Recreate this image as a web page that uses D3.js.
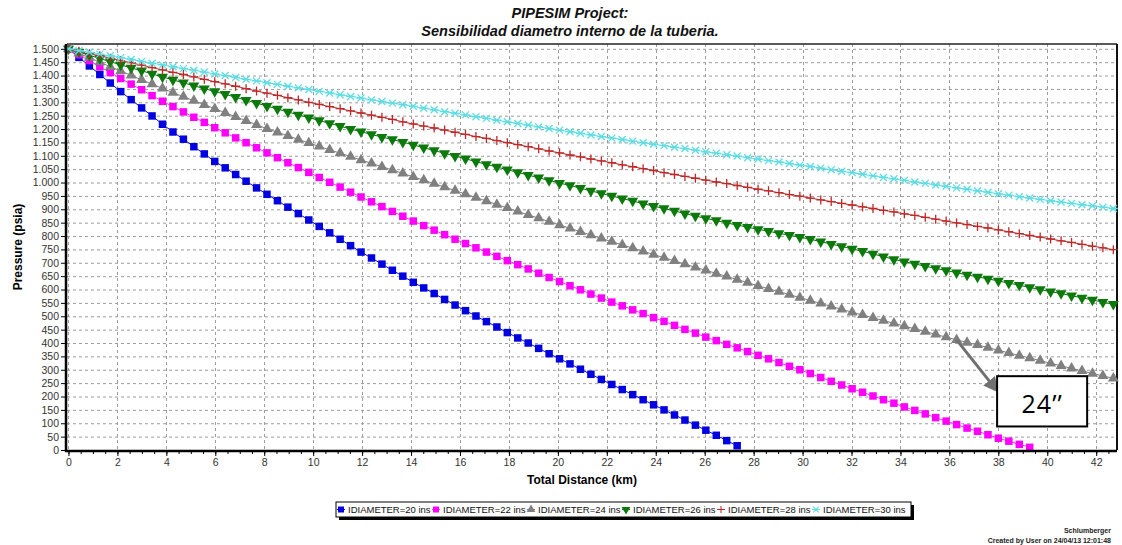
<!DOCTYPE html>
<html>
<head>
<meta charset="utf-8">
<script src="https://cdn.jsdelivr.net/npm/d3@7"></script>
<style>
  body { margin: 0; background: #fff; }
  svg { font-family: "Liberation Sans", Arial, sans-serif; }
  .grid line { stroke: #9c9c9c; stroke-width: 1; stroke-dasharray: 3,3; }
  .axis text { font-size: 10.5px; fill: #333; }
  .axis line { stroke: #000; }
  .axis path { stroke: #000; stroke-width: 2.5; }
  .minor path { display: none; }
  .minor line { stroke: #000; }
</style>
</head>
<body>
<div id="chart"></div>
<script>
// node distances along the line (km)
const DIST = [0,0.427,0.854,1.281,1.708,2.135,2.562,2.989,3.416,3.843,
  4.27,4.697,5.124,5.551,5.978,6.405,6.832,7.259,7.686,8.113,
  8.54,8.967,9.394,9.821,10.248,10.675,11.102,11.529,11.956,12.383,
  12.81,13.237,13.664,14.091,14.518,14.945,15.372,15.799,16.226,16.653,
  17.08,17.507,17.934,18.361,18.788,19.215,19.642,20.069,20.496,20.923,
  21.35,21.777,22.204,22.631,23.058,23.485,23.912,24.339,24.766,25.193,
  25.62,26.047,26.474,26.901,27.328,27.755,28.182,28.609,29.036,29.463,
  29.89,30.317,30.744,31.171,31.598,32.025,32.452,32.879,33.306,33.733,
  34.16,34.587,35.014,35.441,35.868,36.295,36.722,37.149,37.576,38.003,
  38.43,38.857,39.284,39.711,40.138,40.565,40.992,41.419,41.846,42.273,
  42.7];

// pressure (psia) at each node, one list per inner diameter
const P_20 = [1500,1468,1436,1404,1372,1340,1310,1279,1249,1218,
  1189,1162,1134,1107,1079,1055,1030,1005,980,956,
  932,908,884,860,836,812,788,764,740,718,
  695,672,650,627,606,585,563,542,521,501,
  480,460,439,419,400,380,360,341,322,302,
  283,264,245,226,207,188,169,150,131,112,
  93,74,55,35,16];
const P_22 = [1500,1478,1456,1433,1411,1389,1368,1347,1325,1304,
  1284,1264,1244,1225,1205,1186,1167,1149,1130,1111,
  1093,1074,1056,1038,1019,1001,983,964,946,928,
  910,892,874,856,839,822,805,788,772,756,
  740,724,708,693,677,661,645,630,614,599,
  583,568,553,539,524,510,495,481,466,451,
  437,422,409,395,382,368,354,341,327,313,
  300,286,271,257,243,229,216,202,188,175,
  161,148,135,121,108,95,82,70,57,44,
  33,21,10];
const P_24 = [1500,1483,1467,1450,1433,1417,1401,1384,1368,1352,
  1336,1321,1306,1291,1276,1261,1246,1231,1216,1201,
  1188,1175,1161,1148,1135,1122,1110,1097,1084,1072,
  1059,1047,1034,1021,1009,996,983,970,957,944,
  931,918,905,892,879,867,854,841,829,816,
  804,791,779,767,755,743,731,719,707,695,
  683,672,660,649,637,626,614,603,592,581,
  570,559,548,537,526,515,505,494,484,474,
  463,453,443,432,422,412,402,393,383,373,
  363,353,344,334,324,315,305,296,286,277,
  268];
const P_26 = [1500,1488,1476,1464,1452,1440,1429,1418,1406,1395,
  1384,1373,1362,1351,1341,1330,1319,1308,1297,1286,
  1275,1264,1253,1243,1232,1221,1211,1200,1190,1180,
  1170,1161,1151,1141,1130,1120,1109,1099,1089,1078,
  1068,1058,1048,1038,1028,1018,1008,998,989,979,
  969,959,950,940,931,921,912,903,894,884,
  875,866,858,849,841,833,825,818,810,803,
  796,788,779,770,761,752,743,733,723,713,
  704,696,687,679,671,663,655,647,640,632,
  624,616,608,600,592,585,577,569,561,553,
  545];
const P_28 = [1500,1491,1482,1474,1465,1456,1448,1439,1430,1421,
  1412,1404,1395,1386,1377,1369,1360,1351,1342,1334,
  1326,1317,1309,1300,1292,1284,1276,1268,1260,1252,
  1244,1236,1227,1219,1211,1204,1196,1188,1180,1172,
  1165,1157,1149,1142,1134,1126,1118,1111,1103,1096,
  1088,1081,1074,1066,1059,1052,1045,1037,1030,1023,
  1016,1009,1002,996,989,982,975,969,962,955,
  949,942,935,929,922,916,909,903,896,890,
  883,877,870,863,856,849,843,836,830,823,
  816,809,802,796,789,782,776,769,762,756,
  749];
const P_30 = [1500,1493,1487,1480,1474,1467,1460,1453,1446,1440,
  1433,1426,1420,1413,1406,1400,1393,1386,1380,1373,
  1367,1360,1354,1348,1341,1335,1328,1322,1316,1309,
  1303,1297,1291,1285,1278,1272,1265,1259,1253,1246,
  1240,1233,1227,1221,1215,1208,1202,1196,1190,1184,
  1178,1172,1166,1161,1155,1149,1143,1138,1132,1127,
  1121,1115,1110,1104,1099,1093,1088,1082,1077,1071,
  1065,1060,1054,1048,1042,1037,1031,1025,1019,1014,
  1008,1002,997,991,986,980,975,969,964,958,
  953,947,942,937,932,927,922,917,913,908,
  903];

const SERIES_NAMES = ["IDIAMETER=20 ins","IDIAMETER=22 ins","IDIAMETER=24 ins",
                      "IDIAMETER=26 ins","IDIAMETER=28 ins","IDIAMETER=30 ins"];
const X_TICKS = [0,2,4,6,8,10,12,14,16,18,20,22,24,26,28,30,32,34,36,38,40,42];
const Y_TICKS = [0,50,100,150,200,250,300,350,400,450,500,550,600,650,700,750,
                 800,850,900,950,1000,1050,1100,1150,1200,1250,1300,1350,1400,1450,1500];

// styles per series
const STYLE = [
  {line:"#0a0ad2", fill:"#0000e0", sym:"square"},
  {line:"#e040e0", fill:"#ff00ff", sym:"square"},
  {line:"#808080", fill:"#808080", sym:"up"},
  {line:"#0b6e0b", fill:"#0b7a0b", sym:"down"},
  {line:"#b83030", fill:"#c02828", sym:"plus"},
  {line:"#5fdde4", fill:"#5fdde4", sym:"times"}
];
const series = [P_20,P_22,P_24,P_26,P_28,P_30].map((vals,k) => ({
  name: SERIES_NAMES[k],
  style: STYLE[k],
  pts: vals.map((p,i) => ({d: DIST[i], p: p}))
}));

const W = 1122, H = 545;
const PLOT = {LEFT: 67, RIGHT: 1117, TOP: 44, BOTTOM: 450};

const svg = d3.select("#chart").append("svg")
  .attr("width", W).attr("height", H);

const x = d3.scaleLinear().domain([-0.06, 42.85]).range([PLOT.LEFT, PLOT.RIGHT]);
const y = d3.scaleLinear().domain([0, 1518]).range([PLOT.BOTTOM, PLOT.TOP]);

const fmt = d3.formatLocale({decimal: ",", thousands: ".", grouping: [3], currency: ["",""]}).format(",");

// title
const title = svg.append("g").attr("text-anchor", "middle")
  .style("font-weight", "bold").style("font-style", "italic").style("font-size", "14.5px").attr("fill", "#111");
title.append("text").attr("x", 570).attr("y", 18).text("PIPESIM Project:");
title.append("text").attr("x", 570).attr("y", 36).text("Sensibilidad diametro interno de la tuberia.");

// grid
const grid = svg.append("g").attr("class", "grid");
grid.selectAll(".h").data(Y_TICKS.filter(v => v > 0)).enter().append("line")
  .attr("x1", PLOT.LEFT).attr("x2", PLOT.RIGHT)
  .attr("y1", d => y(d) + 0.5).attr("y2", d => y(d) + 0.5);
grid.selectAll(".v").data(X_TICKS).enter().append("line")
  .attr("y1", PLOT.TOP).attr("y2", PLOT.BOTTOM)
  .attr("x1", d => Math.round(x(d)) + 0.5).attr("x2", d => Math.round(x(d)) + 0.5);

// frame top/right
svg.append("line").attr("x1", PLOT.LEFT).attr("x2", PLOT.RIGHT).attr("y1", PLOT.TOP).attr("y2", PLOT.TOP)
  .attr("stroke", "#222").attr("stroke-width", 1.5);
svg.append("line").attr("x1", PLOT.RIGHT).attr("x2", PLOT.RIGHT).attr("y1", PLOT.TOP).attr("y2", PLOT.BOTTOM)
  .attr("stroke", "#111").attr("stroke-width", 2);

// series
const line = d3.line().x(d => x(d.d)).y(d => y(d.p));
const symPath = {
  square: d3.symbol(d3.symbolSquare, 56)(),
  up: d3.symbol(d3.symbolTriangle, 52)(),
  down: d3.symbol(d3.symbolTriangle, 52)(),
  plus: "M-4.5,0H4.5M0,-4.5V4.5",
  times: "M-3.5,-3.5L3.5,3.5M-3.5,3.5L3.5,-3.5M-4.5,0H4.5"
};
function drawMarker(sel, st) {
  const p = sel.append("path").attr("d", symPath[st.sym]);
  if (st.sym === "plus" || st.sym === "times") {
    p.attr("fill", "none").attr("stroke", st.fill).attr("stroke-width", 1.3);
  } else {
    p.attr("fill", st.fill);
  }
  if (st.sym === "down") p.attr("transform", "rotate(180)");
}

const gSeries = svg.append("g");
series.forEach(s => {
  const g = gSeries.append("g");
  g.append("path").datum(s.pts).attr("d", line)
    .attr("fill", "none").attr("stroke", s.style.line).attr("stroke-width", 1);
  g.selectAll("g.m").data(s.pts).enter().append("g")
    .attr("transform", d => `translate(${x(d.d)},${y(d.p)})`)
    .each(function() { drawMarker(d3.select(this), s.style); });
});

// axes
const yAxis = svg.append("g").attr("class", "axis")
  .attr("transform", `translate(${PLOT.LEFT - 1},0)`)
  .call(d3.axisLeft(y).tickValues(Y_TICKS).tickFormat(fmt).tickSize(5).tickPadding(2).tickSizeOuter(0));
yAxis.select(".domain").attr("d", `M0,${PLOT.TOP}V${PLOT.BOTTOM + 2}`);

svg.append("g").attr("class", "axis minor")
  .attr("transform", `translate(0,${PLOT.BOTTOM + 1})`)
  .call(d3.axisBottom(x).ticks(80).tickSize(3).tickFormat(""));
const xAxis = svg.append("g").attr("class", "axis")
  .attr("transform", `translate(0,${PLOT.BOTTOM + 1})`)
  .call(d3.axisBottom(x).tickValues(X_TICKS).tickFormat(d3.format("d")).tickSize(5).tickPadding(3).tickSizeOuter(0));
xAxis.select(".domain").attr("d", `M${PLOT.LEFT - 2},0H${PLOT.RIGHT}`);

// axis titles
svg.append("text").attr("x", 582).attr("y", 484).attr("text-anchor", "middle")
  .style("font-weight", "bold").style("font-size", "12px").text("Total Distance (km)");
svg.append("text").attr("transform", "translate(22,247) rotate(-90)").attr("text-anchor", "middle")
  .style("font-weight", "bold").style("font-size", "12px").text("Pressure (psia)");

// annotation for the 24 in case
const start = series[2].pts[85];
const ARROW_END = {d: 37.7, p: 250};
svg.append("defs").append("marker").attr("id", "ah")
  .attr("viewBox", "0 0 10 10").attr("refX", 2).attr("refY", 5)
  .attr("markerWidth", 5).attr("markerHeight", 5).attr("orient", "auto")
  .append("path").attr("d", "M0,0L10,5L0,10z").attr("fill", "#707070");
svg.append("line")
  .attr("x1", x(start.d)).attr("y1", y(start.p))
  .attr("x2", x(ARROW_END.d)).attr("y2", y(ARROW_END.p))
  .attr("stroke", "#707070").attr("stroke-width", 3).attr("marker-end", "url(#ah)");
const BOX = {d0: 37.95, d1: 41.63, p0: 276, p1: 88};
svg.append("rect")
  .attr("x", x(BOX.d0)).attr("y", y(BOX.p0))
  .attr("width", x(BOX.d1) - x(BOX.d0)).attr("height", y(BOX.p1) - y(BOX.p0))
  .attr("fill", "#fff").attr("stroke", "#000").attr("stroke-width", 2);
svg.append("text")
  .attr("x", (x(BOX.d0) + x(BOX.d1)) / 2).attr("y", y(BOX.p1) - 13)
  .attr("text-anchor", "middle").style("font-family", "'Open Sans', sans-serif")
  .style("font-size", "25px").style("letter-spacing", "1px").attr("fill", "#000").text("24\u2019\u2019");

// legend
const LEG = {X: 336, Y: 502, W: 575, H: 15, STEP: 95};
const leg = svg.append("g").attr("transform", `translate(${LEG.X},${LEG.Y})`);
leg.append("rect").attr("x", 3).attr("y", 3).attr("width", LEG.W).attr("height", LEG.H).attr("fill", "#000");
leg.append("rect").attr("width", LEG.W).attr("height", LEG.H).attr("fill", "#fff").attr("stroke", "#000");
series.forEach((s, k) => {
  const it = leg.append("g").attr("transform", `translate(${5 + k * LEG.STEP},${LEG.H / 2})`);
  it.append("line").attr("x1", -4).attr("x2", 4).attr("stroke", s.style.line);
  const m = it.append("g").attr("transform", "scale(0.8)");
  drawMarker(m, s.style);
  it.append("text").attr("x", 7).attr("y", 3.5).style("font-size", "9.5px").attr("fill", "#111").text(s.name);
});

// footer
const foot = svg.append("g").attr("text-anchor", "end").style("font-size", "7px").style("font-weight", "bold").attr("fill", "#222");
foot.append("text").attr("x", 1111).attr("y", 533).text("Schlumberger");
foot.append("text").attr("x", 1111).attr("y", 543).text("Created by User on 24/04/13 12:01:48");
</script>
</body>
</html>
